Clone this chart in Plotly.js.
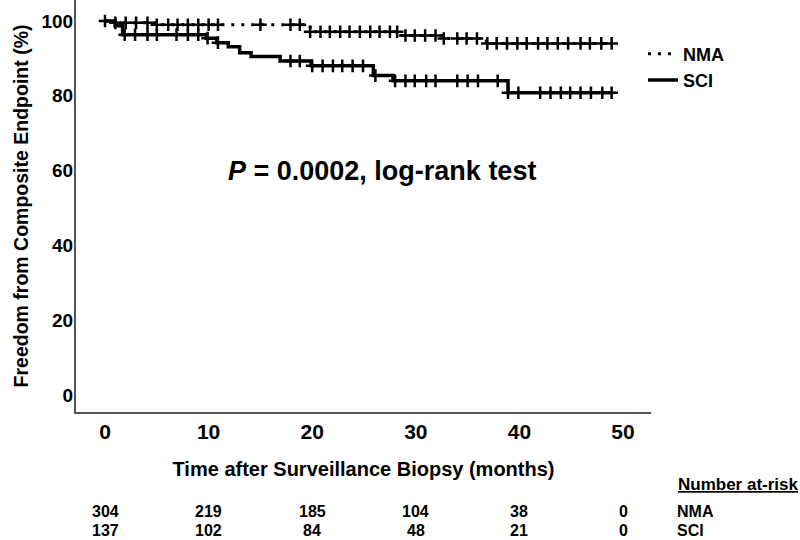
<!DOCTYPE html>
<html>
<head>
<meta charset="utf-8">
<script src="https://cdn.plot.ly/plotly-3.0.1.min.js"></script>
<style>html,body{margin:0;padding:0;background:#fff;}#chart{width:800px;height:540px;}</style>
</head>
<body>
<div id="chart"></div>
<script>
// Kaplan-Meier step data (time in months, survival %)
var nmaTimes = [0, 1.0, 4.8, 19.8, 28.5, 32.7, 36.8, 48.9];
var nmaSurv  = [100, 99.5, 99.0, 97.1, 96.1, 95.3, 94.0, 94.0];
var sciTimes = [0, 0.97, 1.7, 9.8, 10.8, 11.9, 13.0, 14.1, 16.9, 19.9, 25.9, 27.8, 38.9, 48.9];
var sciSurv  = [100, 98.7, 96.3, 95.4, 94.2, 93.1, 91.5, 90.5, 89.3, 88.0, 85.4, 84.0, 80.8, 80.8];

// censoring marks (months)
var nmaCensor = [0, 1.0, 2.0, 3.0, 4.1, 5.0, 6.1, 7.0, 8.0, 9.0, 10.0, 10.9, 15.0, 17.9, 18.8, 19.8,
  20.8, 21.7, 22.7, 23.6, 24.6, 25.6, 26.5, 27.5, 28.2, 29.0, 29.9, 30.9, 31.9, 32.7, 34.0, 34.9,
  35.9, 36.9, 37.8, 38.8, 39.8, 40.7, 41.8, 42.7, 43.7, 44.7, 45.9, 46.8, 47.9, 48.9];
var sciCensor = [1.9, 2.9, 4.1, 5.0, 6.9, 8.0, 9.0, 9.9, 10.9, 17.9, 18.8, 20.0, 21.0, 22.0, 22.9,
  23.9, 24.9, 26.1, 28.0, 29.0, 29.9, 31.0, 31.9, 34.0, 35.0, 36.0, 37.9, 38.9, 39.9, 42.0, 43.0,
  44.0, 44.9, 45.9, 46.9, 48.0, 48.9];

// number at risk
var riskTimes = [0, 10, 20, 30, 40, 50];
var riskNMA = [304, 219, 185, 104, 38, 0];
var riskSCI = [137, 102, 84, 48, 21, 0];
var groupNames = ['NMA', 'SCI'];

var xTicks = [0, 10, 20, 30, 40, 50];
var yTicks = [0, 20, 40, 60, 80, 100];

function stepAt(times, surv, t) {
  var v = surv[0];
  for (var i = 0; i < times.length; i++) { if (times[i] <= t + 1e-9) v = surv[i]; }
  return v;
}

var FONT = 'Liberation Sans, Arial, Helvetica, sans-serif';
var RISK_Y1 = -0.2403, RISK_Y2 = -0.2888;

var traces = [
  {x: nmaTimes, y: nmaSurv, mode: 'lines', name: groupNames[0], line: {shape: 'hv', color: '#000', width: 3, dash: '3px,7px'}},
  {x: sciTimes, y: sciSurv, mode: 'lines', name: groupNames[1], line: {shape: 'hv', color: '#000', width: 3.5}},
  {x: nmaCensor, y: nmaCensor.map(function(t){return stepAt(nmaTimes, nmaSurv, t);}), mode: 'markers', showlegend: false,
   marker: {symbol: 'cross-thin', size: 9, color: '#000', line: {width: 2.5, color: '#000'}}},
  {x: sciCensor, y: sciCensor.map(function(t){return stepAt(sciTimes, sciSurv, t);}), mode: 'markers', showlegend: false,
   marker: {symbol: 'cross-thin', size: 9, color: '#000', line: {width: 2.5, color: '#000'}}}
];

var riskFont = {family: FONT, size: 16, color: '#000', weight: 'bold'};
var annotations = [
  {xref: 'x', yref: 'y', x: 26.7, y: 60, text: '<i>P</i> = 0.0002, log-rank test', showarrow: false,
   xanchor: 'center', yanchor: 'middle', font: {family: FONT, size: 27, color: '#000', weight: 'bold'}},
  {xref: 'paper', yref: 'paper', x: 1.0435, xanchor: 'left', y: -0.177, yanchor: 'middle', text: '<u>Number at-risk</u>', showarrow: false,
   font: {family: FONT, size: 17, color: '#000', weight: 'bold'}},
  {xref: 'paper', yref: 'paper', x: 1.0435, xanchor: 'left', y: RISK_Y1, yanchor: 'middle', text: groupNames[0], showarrow: false,
   borderpad: 0, font: riskFont},
  {xref: 'paper', yref: 'paper', x: 1.0435, xanchor: 'left', y: RISK_Y2, yanchor: 'middle', text: groupNames[1], showarrow: false,
   borderpad: 0, font: riskFont}
];
riskTimes.forEach(function(t, i) {
  annotations.push({xref: 'x', yref: 'paper', x: t, y: RISK_Y1, xanchor: 'center', yanchor: 'middle', text: String(riskNMA[i]), showarrow: false,
    borderpad: 0, font: riskFont});
  annotations.push({xref: 'x', yref: 'paper', x: t, y: RISK_Y2, xanchor: 'center', yanchor: 'middle', text: String(riskSCI[i]), showarrow: false,
    borderpad: 0, font: riskFont});
});

var layout = {
  width: 800, height: 540,
  margin: {l: 76, r: 149, t: 0, b: 128},
  paper_bgcolor: '#fff', plot_bgcolor: '#fff',
  font: {family: FONT, color: '#000'},
  showlegend: true,
  legend: {x: 0.986, xanchor: 'left', y: 0.914, yanchor: 'top', bgcolor: 'rgba(0,0,0,0)',
    font: {family: FONT, size: 18, color: '#000', weight: 'bold'}, tracegroupgap: 0},
  xaxis: {range: [-2.8, 52.7], tickvals: xTicks, ticktext: xTicks.map(String), showgrid: false, zeroline: false,
    showline: true, linecolor: '#555', linewidth: 2, ticks: '', ticklabelstandoff: 0,
    tickfont: {family: FONT, size: 21, color: '#000', weight: 'bold'},
    title: {text: 'Time after Surveillance Biopsy (months)', standoff: 20,
      font: {family: FONT, size: 20, color: '#000', weight: 'bold'}}},
  yaxis: {range: [-4.5, 105.6], tickvals: yTicks, ticktext: yTicks.map(String), showgrid: false, zeroline: false,
    showline: true, linecolor: '#555', linewidth: 2, ticks: '', ticklabelstandoff: -3,
    tickfont: {family: FONT, size: 19, color: '#000', weight: 'bold'},
    title: {text: 'Freedom from Composite Endpoint (%)', standoff: 8,
      font: {family: FONT, size: 19.5, color: '#000', weight: 'bold'}}},
  annotations: annotations
};

Plotly.newPlot('chart', traces, layout, {displayModeBar: false, staticPlot: true});
</script>
</body>
</html>
